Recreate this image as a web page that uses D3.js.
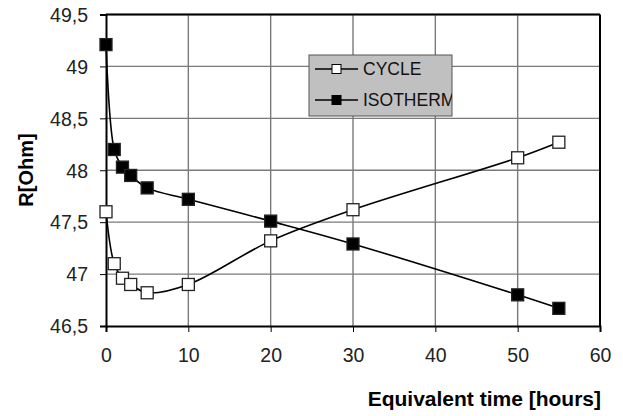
<!DOCTYPE html>
<meta charset="utf-8">
<style>
  body { margin: 0; background: white; }
  text { font-family: "Liberation Sans", Arial, sans-serif; }
  .grid line { stroke: #7a7a7a; stroke-width: 1.4; }
</style>
<body>
<script src="https://d3js.org/d3.v7.min.js"></script>
<script>
  var width = 623, height = 416;

  // data
  var hours = [0, 1, 2, 3, 5, 10, 20, 30, 50, 55];
  var cycle = [47.60, 47.10, 46.96, 46.90, 46.82, 46.90, 47.32, 47.62, 48.12, 48.27];
  var isotherm = [49.21, 48.20, 48.03, 47.95, 47.83, 47.72, 47.51, 47.29, 46.80, 46.67];
  var xTicks = [0, 10, 20, 30, 40, 50, 60];
  var yTicks = [46.5, 47, 47.5, 48, 48.5, 49, 49.5];

  var svg = d3.select("body").append("svg")
      .attr("width", width)
      .attr("height", height);

  var x = d3.scaleLinear().domain([0, 60]).range([106, 600]);
  var y = d3.scaleLinear().domain([46.5, 49.5]).range([326, 14.5]);

  var fmt = function(d) { return String(d).replace(".", ","); };

  // grid
  var grid = svg.append("g").attr("class", "grid");
  grid.selectAll(".v").data(xTicks.slice(1)).enter().append("line")
      .attr("x1", d => x(d)).attr("x2", d => x(d))
      .attr("y1", y(49.5)).attr("y2", y(46.5));
  grid.selectAll(".h").data(yTicks.slice(1)).enter().append("line")
      .attr("x1", x(0)).attr("x2", x(60))
      .attr("y1", d => y(d)).attr("y2", d => y(d));

  // axes
  var xAxis = svg.append("g")
      .attr("transform", "translate(0," + y(46.5) + ")")
      .call(d3.axisBottom(x).tickValues(xTicks).tickSize(6).tickPadding(16).tickFormat(d3.format("d")));
  var yAxis = svg.append("g")
      .attr("transform", "translate(" + x(0) + ",0)")
      .call(d3.axisLeft(y).tickValues(yTicks).tickSize(6).tickPadding(12).tickFormat(fmt));

  [xAxis, yAxis].forEach(function(a) {
    a.select(".domain").attr("stroke", "#000").attr("stroke-width", 2);
    a.selectAll(".tick line").attr("stroke", "#000");
    a.selectAll(".tick text")
      .attr("font-family", "Liberation Sans, Arial, sans-serif")
      .attr("font-size", 19.5).attr("fill", "#222");
  });
  yAxis.selectAll(".tick text").attr("dy", "0.35em");

  // top and right frame
  svg.append("line").attr("x1", x(0)).attr("x2", x(60)).attr("y1", y(49.5)).attr("y2", y(49.5))
      .attr("stroke", "#000").attr("stroke-width", 2);
  svg.append("line").attr("x1", x(60)).attr("x2", x(60)).attr("y1", y(49.5)).attr("y2", y(46.5))
      .attr("stroke", "#000").attr("stroke-width", 2);

  var line = d3.line().curve(d3.curveCatmullRom.alpha(0.5))
      .x(d => x(d[0])).y(d => y(d[1]));

  var series = [
    { name: "CYCLE", values: cycle, fill: "#fff" },
    { name: "ISOTHERM", values: isotherm, fill: "#000" }
  ];

  series.forEach(function(s) {
    var pts = hours.map((h, i) => [h, s.values[i]]);
    svg.append("path").datum(pts)
        .attr("d", line).attr("fill", "none")
        .attr("stroke", "#000").attr("stroke-width", 1.6);
    svg.selectAll(null).data(pts).enter().append("rect")
        .attr("x", d => x(d[0]) - 6).attr("y", d => y(d[1]) - 6)
        .attr("width", 12).attr("height", 12)
        .attr("fill", s.fill).attr("stroke", "#222").attr("stroke-width", 1.3);
  });

  // legend
  var lg = svg.append("g");
  lg.append("clipPath").attr("id", "lgclip").append("rect")
      .attr("x", 309).attr("y", 55).attr("width", 143).attr("height", 61);
  lg.append("rect").attr("x", 309).attr("y", 55).attr("width", 143).attr("height", 61)
      .attr("fill", "#c0c0c0").attr("stroke", "#555").attr("stroke-width", 1);
  series.forEach(function(s, i) {
    var ly = 69 + i * 31;
    lg.append("line").attr("x1", 315).attr("x2", 358).attr("y1", ly).attr("y2", ly)
        .attr("stroke", "#000").attr("stroke-width", 1.5);
    lg.append("rect").attr("x", 332).attr("y", ly - 4.5).attr("width", 9).attr("height", 9)
        .attr("fill", s.fill).attr("stroke", "#000");
    lg.append("text").attr("x", 363).attr("y", ly).attr("dy", "0.35em")
        .attr("clip-path", "url(#lgclip)")
        .attr("font-size", 17.5).attr("fill", "#111").text(s.name);
  });

  // axis titles
  svg.append("text")
      .attr("transform", "translate(33,170) rotate(-90)")
      .attr("text-anchor", "middle")
      .attr("font-size", 20).attr("font-weight", "bold")
      .text("R[Ohm]");
  svg.append("text")
      .attr("x", 601).attr("y", 406)
      .attr("text-anchor", "end")
      .attr("font-size", 21).attr("font-weight", "bold")
      .text("Equivalent time [hours]");
</script>
</body>
